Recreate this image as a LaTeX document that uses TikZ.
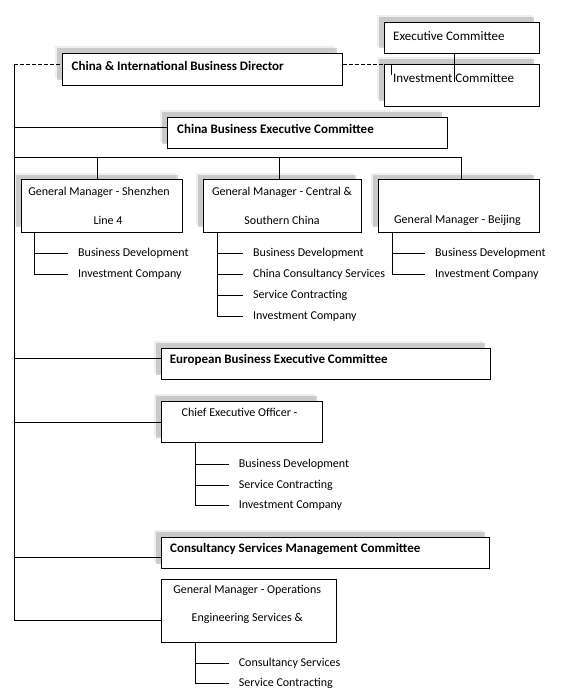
\documentclass[tikz,border=0pt]{standalone}
\usepackage{fontspec}
\setmainfont{Carlito}
\usetikzlibrary{shadows}
\begin{document}
\begin{tikzpicture}[x=1pt,y=-1pt,
  box/.style={draw, line width=0.8pt, fill=white, inner sep=0pt, anchor=north west},
  shad/.style={drop shadow={shadow xshift=-7pt,shadow yshift=7pt,fill=black!12},
               drop shadow={shadow xshift=-5pt,shadow yshift=5pt,fill=black!35}},
  lbl/.style={inner sep=0pt, font=\fontsize{12}{14}\selectfont},
  clbl/.style={inner sep=0pt, font=\fontsize{13}{15}\selectfont},
  blbl/.style={inner sep=0pt, font=\fontsize{13}{15}\selectfont\bfseries},
  ln/.style={line width=0.8pt},
  dln/.style={line width=0.8pt, dash pattern=on 4pt off 2pt}]
\useasboundingbox (0,0) rectangle (560,692);
\fill[white] (0,0) rectangle (560,692);
% boxes
\node[box,shad,minimum width=155pt,minimum height=31pt] (exec) at (384,22) {};
\node[box,shad,minimum width=155pt,minimum height=42pt] (inv) at (384,64) {};
\node[box,shad,minimum width=280pt,minimum height=32pt] (dir) at (62,53) {};
\node[box,shad,minimum width=280pt,minimum height=31.6pt] (cbe) at (166.7,116.7) {};
\node[box,shad,minimum width=161.5pt,minimum height=52.5pt] (gm1) at (20.7,179.2) {};
\node[box,shad,minimum width=158pt,minimum height=52.5pt] (gm2) at (202.5,179.2) {};
\node[box,shad,minimum width=161pt,minimum height=52.5pt] (gm3) at (377.5,179.2) {};
\node[box,shad,minimum width=329pt,minimum height=31.6pt] (eur) at (160.5,347.7) {};
\node[box,shad,minimum width=161pt,minimum height=41.6pt] (ceo) at (160.7,400.7) {};
\node[box,shad,minimum width=328.6pt,minimum height=31.6pt] (csm) at (160.7,536.7) {};
\node[box,minimum width=175pt,minimum height=63.3pt] (ops) at (160.7,578.7) {};
% box texts
\node[clbl,anchor=west] (exec-t) at (393,35.7) {Executive Committee};
\node[clbl,anchor=west] (inv-t) at (393,77.7) {Investment Committee};
\node[blbl,anchor=west] (dir-t) at (71.5,66) {China \& International Business Director};
\node[blbl,anchor=west] (cbe-t) at (177,129) {China Business Executive Committee};
\node[lbl] (gm1-a) at (99,192.3) {General Manager - Shenzhen};
\node[lbl] (gm1-b) at (108,220) {Line 4};
\node[lbl] (gm2-a) at (282,192.3) {General Manager - Central \&};
\node[lbl] (gm2-b) at (282,220) {Southern China};
\node[lbl] (gm3-a) at (457.5,220) {General Manager - Beijing};
\node[blbl,anchor=west] (eur-t) at (169.6,360) {European Business Executive Committee};
\node[lbl] (ceo-t) at (239.5,412.3) {Chief Executive Officer -};
\node[blbl,anchor=west] (csm-t) at (170,549) {Consultancy Services Management Committee};
\node[lbl] (ops-a) at (247.2,590.7) {General Manager - Operations};
\node[lbl] (ops-b) at (247.2,618.7) {Engineering Services \&};
% child labels
\node[lbl,anchor=west] (c11) at (78,253.7) {Business Development};
\node[lbl,anchor=west] (c12) at (78,274.3) {Investment Company};
\node[lbl,anchor=west] (c21) at (253,253.7) {Business Development};
\node[lbl,anchor=west] (c22) at (253,274.3) {China Consultancy Services};
\node[lbl,anchor=west] (c23) at (253,295.7) {Service Contracting};
\node[lbl,anchor=west] (c24) at (253,316.3) {Investment Company};
\node[lbl,anchor=west] (c31) at (435,253.7) {Business Development};
\node[lbl,anchor=west] (c32) at (435,274.3) {Investment Company};
\node[lbl,anchor=west] (c41) at (238.6,464.7) {Business Development};
\node[lbl,anchor=west] (c42) at (238.6,485) {Service Contracting};
\node[lbl,anchor=west] (c43) at (238.6,505.3) {Investment Company};
\node[lbl,anchor=west] (c51) at (238.6,663) {Consultancy Services};
\node[lbl,anchor=west] (c52) at (238.6,683.3) {Service Contracting};
% coordinates
\coordinate (top) at (14,64);
\coordinate (bot) at (14,620);
\coordinate (bus) at (14,157.3);
\coordinate (tick) at (391,64);
% top connectors
\draw[dln] (top) -- (top -| dir.west);
\draw[dln] (dir.east |- top) -- (inv.north west);
\draw[ln] (tick) -- ++(0,11);
\draw[ln] (exec.south -| 454,0) -- (454,81.7);
\draw[ln] (top) -- (bot);
\draw[ln] (14,127.3) -- (cbe.west |- 0,127.3);
\draw[ln] (bus) -- (461,157.3);
\draw[ln] (97.3,157.3) -- (gm1.north -| 97.3,0);
\draw[ln] (279,157.3) -- (gm2.north -| 279,0);
\draw[ln] (461,157.3) -- (gm3.north -| 461,0);
% children of gm1
\draw[ln] (gm1.south -| 34.6,0) -- (34.6,274.3) -- (68,274.3);
\draw[ln] (34.6,253.7) -- (68,253.7);
% children of gm2
\draw[ln] (gm2.south -| 217,0) -- (217,316.3) -- (243,316.3);
\foreach \y in {253.7,274.3,295.7} \draw[ln] (217,\y) -- (243,\y);
% children of gm3
\draw[ln] (gm3.south -| 392,0) -- (392,274.3) -- (425,274.3);
\draw[ln] (392,253.7) -- (425,253.7);
% European
\draw[ln] (14,358) -- (eur.west |- 0,358);
\draw[ln] (ceo.west -| 14,0) -- (ceo.west);
\draw[ln] (ceo.south -| 195.7,0) -- (195.7,505.3) -- (228.6,505.3);
\foreach \y in {464.7,485} \draw[ln] (195.7,\y) -- (228.6,\y);
% Consultancy
\draw[ln] (14,557.3) -- (csm.west |- 0,557.3);
\draw[ln] (bot) -- (ops.west |- bot);
\draw[ln] (ops.south -| 195.7,0) -- (195.7,683.3) -- (228.6,683.3);
\draw[ln] (195.7,663) -- (228.6,663);
\end{tikzpicture}
\end{document}
